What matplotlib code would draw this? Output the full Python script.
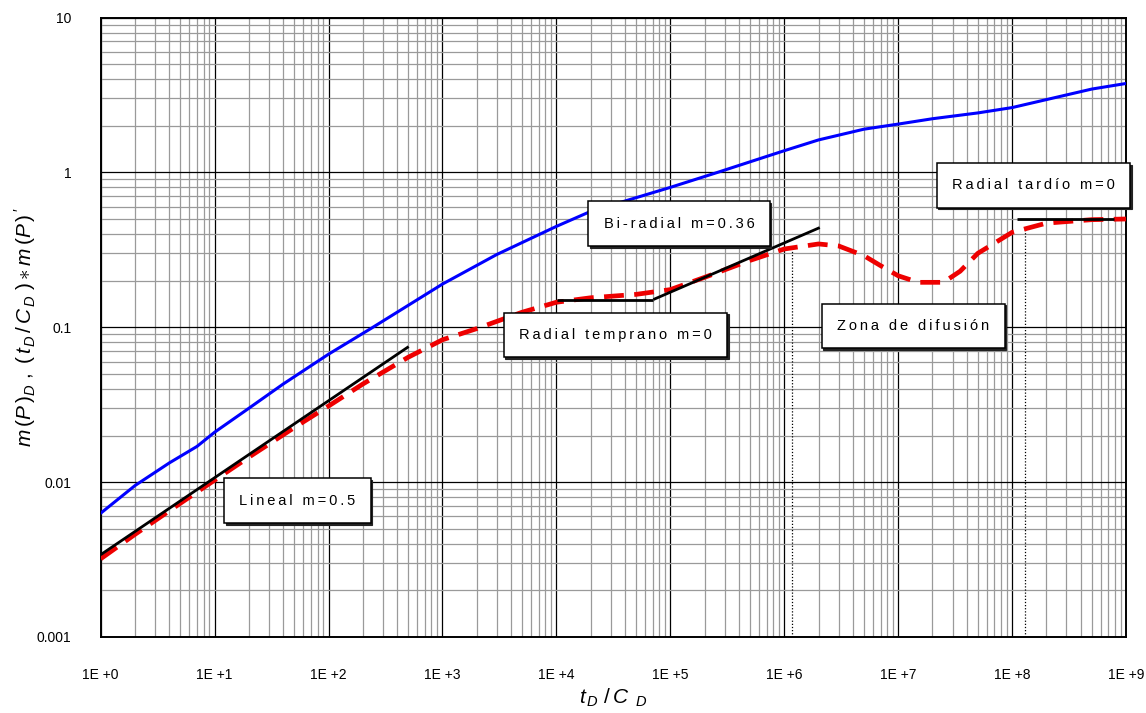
import matplotlib
matplotlib.use("Agg")
import matplotlib.pyplot as plt
from matplotlib.ticker import LogLocator, NullFormatter
from matplotlib.transforms import offset_copy

plt.rcParams['font.family'] = ['Liberation Sans', 'DejaVu Sans']
plt.rcParams['mathtext.fontset'] = 'custom'
plt.rcParams['mathtext.it'] = 'Liberation Sans:italic'
plt.rcParams['mathtext.rm'] = 'Liberation Sans'
plt.rcParams['mathtext.sf'] = 'Liberation Sans'

# ---- data ----
x_blue = [1, 2, 4, 7, 10, 20, 40, 100, 240, 1e3, 3e3, 1e4, 2e4, 1e5, 2.6e5,
          1e6, 2e6, 5e6, 1e7, 2e7, 5e7, 1e8, 2e8, 5e8, 1e9]
y_blue = [0.0063, 0.0095, 0.0133, 0.017, 0.021, 0.030, 0.043, 0.067, 0.099,
          0.19, 0.295, 0.448, 0.56, 0.80, 1.0, 1.38, 1.62, 1.9, 2.05, 2.22,
          2.42, 2.62, 2.95, 3.45, 3.75]

x_red = [1, 2, 5, 10, 20, 50, 100, 200, 500, 1e3, 2e3, 5e3, 1e4, 2e4, 5e4,
         1e5, 2e5, 5e5, 1e6, 2e6, 3e6, 5e6, 7e6, 1e7, 1.5e7, 2.5e7, 3.5e7,
         5e7, 1e8, 2e8, 5e8, 1e9]
y_red = [0.0032, 0.0046, 0.0073, 0.0103, 0.0145, 0.0225, 0.031, 0.043,
         0.064, 0.083, 0.098, 0.125, 0.145, 0.155, 0.163, 0.175, 0.21, 0.27,
         0.32, 0.345, 0.335, 0.29, 0.25, 0.215, 0.195, 0.195, 0.23, 0.30,
         0.41, 0.47, 0.495, 0.50]

x_lineal = [1, 505]
y_lineal = [0.0034, 0.075]
x_radial_early = [1.02e4, 7.1e4]
y_radial_early = [0.151, 0.151]
x_biradial = [7.1e4, 2.05e6]
y_biradial = [0.151, 0.44]
x_radial_late = [1.1e8, 7.8e8]
y_radial_late = [0.50, 0.50]

x_dot1 = [1.17e6, 1.17e6]
y_dot1 = [0.001, 0.33]
x_dot2 = [1.3e8, 1.3e8]
y_dot2 = [0.001, 0.44]

x_ticks = [1e0, 1e1, 1e2, 1e3, 1e4, 1e5, 1e6, 1e7, 1e8, 1e9]
x_ticklabels = ["1E +0", "1E +1", "1E +2", "1E +3", "1E +4", "1E +5", "1E +6",
                "1E +7", "1E +8", "1E +9"]
y_ticks = [0.001, 0.01, 0.1, 1, 10]
y_ticklabels = ["0.001", "0.01", "0.1", "1", "10"]

# annotation texts with their centres in axes fractions
annotations = [
    ("Lineal m=0.5", 0.192, 0.220),
    ("Radial temprano m=0", 0.502, 0.4875),
    ("Bi-radial m=0.36", 0.564, 0.667),
    ("Zona de difusión", 0.7926, 0.5023),
    ("Radial tardío m=0", 0.910, 0.729),
]

def spaced(s):
    return "\u2009".join(s)

# ---- figure ----
fig = plt.figure(figsize=(11.46, 7.13), dpi=100)
ax = fig.add_axes([100.7 / 1146, 76 / 713, (1126 - 100.7) / 1146, (637 - 17.5) / 713])
ax.set_xscale('log')
ax.set_yscale('log')
ax.set_xlim(1, 1e9)
ax.set_ylim(0.001, 10)

ax.xaxis.set_minor_locator(LogLocator(base=10, subs=range(2, 10), numticks=100))
ax.yaxis.set_minor_locator(LogLocator(base=10, subs=range(2, 10), numticks=100))
ax.xaxis.set_minor_formatter(NullFormatter())
ax.yaxis.set_minor_formatter(NullFormatter())
ax.set_xticks(x_ticks)
ax.set_xticklabels(x_ticklabels)
ax.set_yticks(y_ticks)
ax.set_yticklabels(y_ticklabels)
ax.tick_params(which='both', length=0)
ax.tick_params(axis='x', pad=22, labelsize=10)
ax.tick_params(axis='y', pad=21, labelsize=10)

ax.grid(True, which='minor', color='#9a9a9a', linewidth=0.9, zorder=0)
ax.grid(True, which='major', color='black', linewidth=0.9, zorder=0.5)
ax.set_axisbelow(True)
for sp in ax.spines.values():
    sp.set_linewidth(1.4)
    sp.set_color('black')

ax.plot(x_blue, y_blue, color='#0000ff', lw=2.2, zorder=3)
ax.plot(x_red, y_red, color='#ee0000', lw=3.4, dashes=(4.2, 2.2), zorder=3)
for xs, ys in [(x_lineal, y_lineal), (x_radial_early, y_radial_early),
               (x_biradial, y_biradial), (x_radial_late, y_radial_late)]:
    ax.plot(xs, ys, color='black', lw=2.0, zorder=4, solid_capstyle='butt')
for xs, ys in [(x_dot1, y_dot1), (x_dot2, y_dot2)]:
    ax.plot(xs, ys, color='black', lw=0.9, ls=(0, (1, 1.5)), zorder=2)

shadow_tr = offset_copy(ax.transAxes, fig=fig, x=1.5, y=-1.5, units='dots')
for txt, xx, yy in annotations:
    ax.text(xx, yy, spaced(txt), fontsize=10.5, ha='center', va='center',
            transform=shadow_tr, zorder=5, color='black',
            bbox=dict(boxstyle='square,pad=1.05', fc='#222222', ec='#222222', lw=0.8))
    ax.text(xx, yy, spaced(txt), fontsize=10.5, ha='center', va='center',
            transform=ax.transAxes, zorder=6,
            bbox=dict(boxstyle='square,pad=1.05', fc='white', ec='black', lw=1.1))

ax.set_ylabel(r"$m\,(P\,)_D\ ,\ (\,t_{\,D}\,/\,C_{\,D}\ )\ast m\,(P\,)\,'$",
              fontsize=15)
ax.yaxis.set_label_coords(-63 / 1025.3, 0.5)
ax.set_xlabel(r"$t_{\,D}\ /\,C_{\ \ D}$", fontsize=15)
ax.xaxis.set_label_coords(0.5, -50 / 619.5)

fig.savefig("out.png", dpi=100)
